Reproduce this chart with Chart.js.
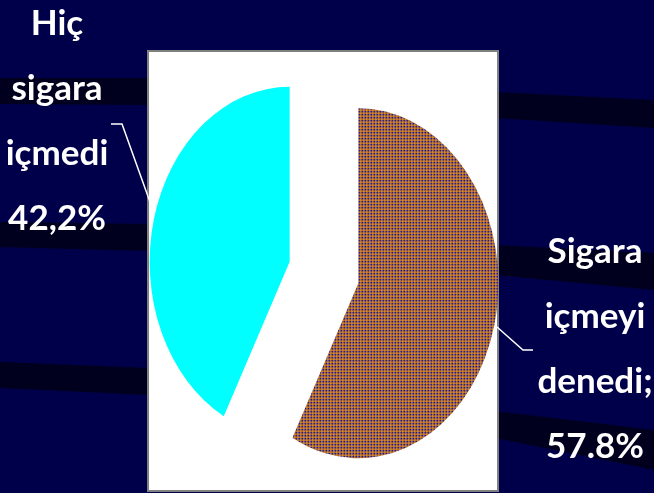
<!DOCTYPE html>
<html>
<head>
<meta charset="utf-8">
<script src="https://cdn.jsdelivr.net/npm/chart.js@4.4.0/dist/chart.umd.min.js"></script>
<style>
  html, body { margin: 0; padding: 0; background: #00004a; }
  #wrap { position: relative; width: 654px; height: 493px; overflow: hidden; }
  #chart { position: absolute; left: 0; top: 0; }
  .lbl {
    position: absolute;
    color: #fff;
    font-family: Lato, "Noto Sans", sans-serif;
    font-weight: bold;
    font-size: 35px;
    line-height: 65px;
    text-align: center;
    white-space: nowrap;
  }
  #lblLeft { left: 0; top: -11px; width: 114px; }
  #lblRight { left: 536px; top: 217px; width: 118px; }
</style>
</head>
<body>
<div id="wrap">
  <canvas id="chart" width="654" height="493"></canvas>
  <div class="lbl" id="lblLeft"></div>
  <div class="lbl" id="lblRight"></div>
</div>
<script>
// slice order follows the picture: starts at 12 o'clock, clockwise
const labels = ["Sigara içmeyi denedi;", "Hiç sigara içmedi"];
const labelLines = [["Sigara", "içmeyi", "denedi;", "57.8%"], ["Hiç", "sigara", "içmedi", "42,2%"]];
const values = [57.8, 42.2];

document.getElementById("lblRight").innerHTML = labelLines[0].join("<br>");
document.getElementById("lblLeft").innerHTML = labelLines[1].join("<br>");

// orange grid with navy cells, used for the bigger slice
function makePattern(ctx) {
  const tile = document.createElement("canvas");
  tile.width = 3;
  tile.height = 3;
  const t = tile.getContext("2d");
  t.fillStyle = "#f7990f";
  t.fillRect(0, 0, 3, 3);
  t.fillStyle = "#201a96";
  t.fillRect(0, 0, 2, 2);
  const p = ctx.createPattern(tile, "repeat");
  p.setTransform(new DOMMatrix([1, 0, 0, 0.8, 0, 0]));
  return p;
}

const stretchY = 1.25;   // the pie in the picture is an upright ellipse
const explode = 35.4;    // how far each slice is pulled out

const backdrop = {
  id: "backdrop",
  beforeDraw(chart) {
    const ctx = chart.ctx;
    ctx.save();
    ctx.fillStyle = "#00004a";
    ctx.fillRect(0, 0, chart.width, chart.height);
    ctx.fillStyle = "#00001e";
    const bands = [
      [[0, 78], [150, 78], [150, 105], [0, 104]],
      [[0, 222], [150, 224], [150, 251], [0, 247]],
      [[0, 362], [150, 368], [150, 395], [0, 388]],
      [[495, 92], [654, 100], [654, 128], [495, 118]],
      [[495, 245], [654, 253], [654, 290], [495, 275]],
      [[495, 411], [654, 430], [654, 470], [495, 438]],
    ];
    bands.forEach((b) => {
      ctx.beginPath();
      b.forEach((p, i) => (i ? ctx.lineTo(p[0], p[1]) : ctx.moveTo(p[0], p[1])));
      ctx.closePath();
      ctx.fill();
    });
    ctx.fillStyle = "#fff";
    ctx.fillRect(148, 51, 350, 440);
    ctx.strokeStyle = "#808080";
    ctx.lineWidth = 2;
    ctx.strokeRect(148, 51, 350, 440);
    ctx.restore();
  },
  beforeDatasetsDraw(chart) {
    const a = chart.chartArea;
    const cx = (a.left + a.right) / 2;
    const cy = (a.top + a.bottom) / 2;
    const ctx = chart.ctx;
    ctx.save();
    ctx.translate(cx, cy);
    ctx.scale(1, stretchY);
    ctx.translate(-cx, -cy);
  },
  beforeDatasetDraw(chart, args) {
    // pull every slice out along its mid angle, keeping straight radial edges
    const ctx = chart.ctx;
    args.meta.data.forEach((arc) => {
      const mid = (arc.startAngle + arc.endAngle) / 2;
      ctx.save();
      ctx.translate(Math.cos(mid) * explode, Math.sin(mid) * explode);
      arc.draw(ctx);
      ctx.restore();
    });
    return false;
  },
  afterDatasetsDraw(chart) {
    chart.ctx.restore();
  },
  afterDraw(chart) {
    const ctx = chart.ctx;
    ctx.save();
    ctx.strokeStyle = "#fff";
    ctx.lineWidth = 1.5;
    ctx.beginPath();
    ctx.moveTo(111, 124);
    ctx.lineTo(122, 124);
    ctx.lineTo(150, 202);
    ctx.moveTo(497, 327);
    ctx.lineTo(523, 350);
    ctx.lineTo(533, 350);
    ctx.stroke();
    ctx.restore();
  },
};

const canvas = document.getElementById("chart");
const ctx = canvas.getContext("2d");

new Chart(ctx, {
  type: "pie",
  data: {
    labels,
    datasets: [
      {
        data: values,
        backgroundColor: [makePattern(ctx), "#00ffff"],
        borderWidth: 0,
        clip: false,
      },
    ],
  },
  options: {
    responsive: false,
    animation: false,
    events: [],
    radius: 140,
    layout: { padding: { left: 150, right: 156, top: 100, bottom: 48 } },
    plugins: {
      legend: { display: false },
      tooltip: { enabled: false },
    },
  },
  plugins: [backdrop],
});
</script>
</body>
</html>
